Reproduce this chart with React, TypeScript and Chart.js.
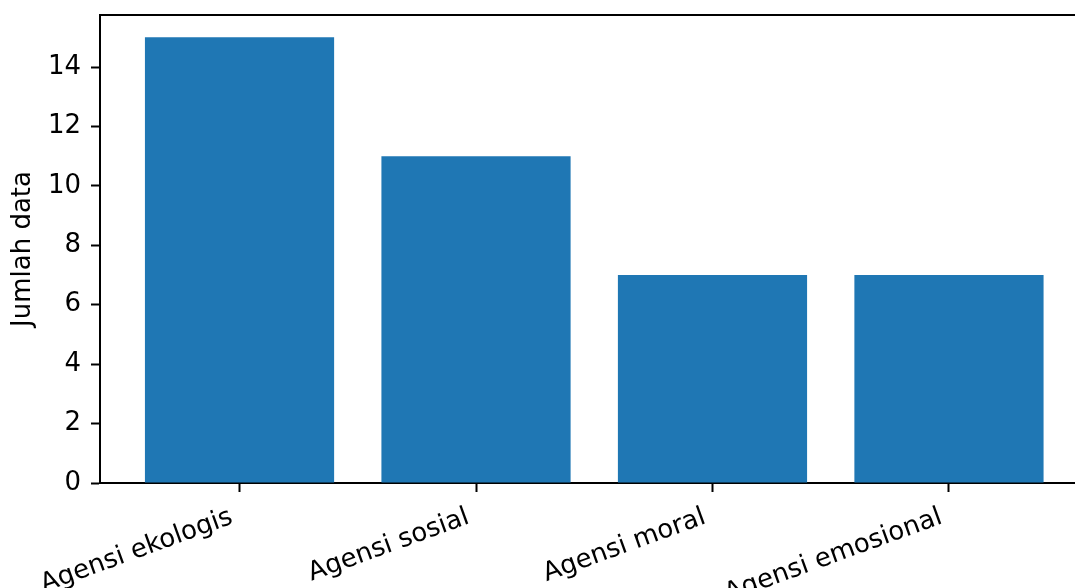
import React, { useEffect, useRef } from "react";
import { Chart, registerables } from "chart.js";

Chart.register(...registerables);

const categories = ["Agensi ekologis", "Agensi sosial", "Agensi moral", "Agensi emosional"];
const values = [15, 11, 7, 7];
const yTicks = [0, 2, 4, 6, 8, 10, 12, 14];
const yLabel = "Jumlah data";

const FONT = "'DejaVu Sans', sans-serif";

export default function App() {
  const ref = useRef<HTMLCanvasElement | null>(null);
  useEffect(() => {
    if (!ref.current) return;
    const spines = {
      id: "spines",
      afterDraw(chart: any) {
        const { ctx, chartArea } = chart;
        ctx.save();
        ctx.strokeStyle = "#000";
        ctx.lineWidth = 2;
        ctx.beginPath();
        ctx.moveTo(chartArea.left - 1, chartArea.top);
        ctx.lineTo(chartArea.right + 1, chartArea.top);
        ctx.moveTo(chartArea.right, chartArea.top);
        ctx.lineTo(chartArea.right, chartArea.bottom);
        ctx.stroke();
        ctx.restore();
      },
    };
    const chart = new Chart(ref.current, {
      type: "bar",
      data: {
        datasets: [
          {
            data: values.map((v, i) => ({ x: i, y: v })),
            backgroundColor: "#1f77b4",
            borderWidth: 0,
            barPercentage: 0.8,
            categoryPercentage: 1,
          },
        ],
      },
      options: {
        responsive: false,
        devicePixelRatio: 1,
        animation: false,
        layout: { padding: { top: 15, right: 11.5, left: 0, bottom: 0 } },
        plugins: { legend: { display: false }, tooltip: { enabled: false } },
        scales: {
          x: {
            type: "linear",
            offset: false,
            min: -0.59,
            max: 3.59,
            afterBuildTicks: (scale: any) => {
              scale.ticks = categories.map((_, i) => ({ value: i }));
            },
            afterFit: (scale: any) => {
              scale.height = 105;
              scale.paddingLeft = 0;
              scale.paddingRight = 0;
            },
            grid: {
              display: true,
              offset: false,
              drawOnChartArea: false,
              drawTicks: true,
              tickLength: 9,
              tickWidth: 2,
              tickColor: "#000",
              color: "#000",
            },
            border: { display: true, color: "#000", width: 2 },
            ticks: {
              minRotation: 20,
              maxRotation: 20,
              autoSkip: false,
              padding: 7,
              color: "#000",
              font: { family: FONT, size: 26 },
              callback: (v: any) => {
                const c = categories[Math.round(Number(v))];
                return c ? c + " " : "";
              },
            },
          },
          y: {
            type: "linear",
            min: 0,
            max: 15.75,
            afterBuildTicks: (scale: any) => {
              scale.ticks = yTicks.map((v) => ({ value: v }));
            },
            afterFit: (scale: any) => {
              scale.width = 100;
              scale.paddingTop = 0;
              scale.paddingBottom = 0;
            },
            grid: {
              display: true,
              drawOnChartArea: false,
              drawTicks: true,
              tickLength: 9,
              tickWidth: 2,
              tickColor: "#000",
              color: "#000",
            },
            border: { display: true, color: "#000", width: 2 },
            ticks: {
              padding: 10,
              color: "#000",
              font: { family: FONT, size: 26 },
            },
            title: {
              display: true,
              text: yLabel,
              color: "#000",
              font: { family: FONT, size: 26 },
              padding: { top: 8, bottom: 0 },
            },
          },
        },
      },
      plugins: [spines],
    });
    return () => chart.destroy();
  }, []);
  return (
    <div
      style={{
        position: "fixed",
        left: 0,
        top: 0,
        width: 1075,
        height: 588,
        overflow: "hidden",
        background: "#fff",
      }}
    >
      <canvas ref={ref} width={1100} height={588} style={{ display: "block" }} />
    </div>
  );
}
